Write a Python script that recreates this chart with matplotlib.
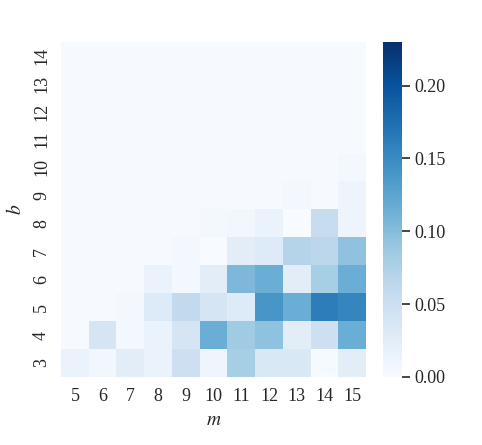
import numpy as np
import matplotlib
matplotlib.use("Agg")
import matplotlib.pyplot as plt

plt.rcParams['font.family'] = ['Liberation Serif', 'DejaVu Serif']
plt.rcParams['mathtext.fontset'] = 'stix'

# grid axes
m_values = [5, 6, 7, 8, 9, 10, 11, 12, 13, 14, 15]
b_values = [3, 4, 5, 6, 7, 8, 9, 10, 11, 12, 13, 14]

# fraction per (b, m); rows follow b_values, columns follow m_values
b3 = [0.015, 0.007, 0.025, 0.015, 0.050, 0.010, 0.080, 0.035, 0.035, 0.002, 0.025]
b4 = [0.001, 0.040, 0.005, 0.015, 0.040, 0.115, 0.085, 0.095, 0.025, 0.050, 0.115]
b5 = [0.001, 0.001, 0.005, 0.030, 0.060, 0.040, 0.030, 0.140, 0.115, 0.162, 0.155]
b6 = [0.001, 0.001, 0.001, 0.015, 0.005, 0.025, 0.105, 0.115, 0.025, 0.080, 0.115]
b7 = [0.001, 0.001, 0.001, 0.001, 0.005, 0.000, 0.025, 0.030, 0.070, 0.065, 0.095]
b8 = [0.001, 0.001, 0.001, 0.001, 0.001, 0.005, 0.007, 0.015, 0.000, 0.055, 0.012]
b9 = [0.001, 0.001, 0.001, 0.001, 0.001, 0.001, 0.001, 0.001, 0.005, 0.001, 0.012]
b10 = [0.001, 0.001, 0.001, 0.001, 0.001, 0.001, 0.001, 0.001, 0.001, 0.001, 0.005]
b11 = [0.001] * 11
b12 = [0.001] * 11
b13 = [0.001] * 11
b14 = [0.001] * 11

grid = np.array([b3, b4, b5, b6, b7, b8, b9, b10, b11, b12, b13, b14])

fig = plt.figure(figsize=(4.82, 4.45), dpi=100)
ax = fig.add_axes([0.1266, 0.153, 0.6328, 0.753])
cax = fig.add_axes([0.795, 0.153, 0.039, 0.753])

mesh = ax.pcolormesh(np.arange(len(m_values) + 1), np.arange(len(b_values) + 1),
                     grid, cmap='Blues', vmin=0, vmax=0.23)
ax.set_xlim(0, len(m_values))
ax.set_ylim(0, len(b_values))
ax.set_xticks(np.arange(len(m_values)) + 0.5)
ax.set_xticklabels(m_values)
ax.set_yticks(np.arange(len(b_values)) + 0.5)
ax.set_yticklabels(b_values, rotation=90, va='center')
ax.tick_params(length=0, labelsize=13, colors='#262626', pad=8)
for s in ax.spines.values():
    s.set_visible(False)
ax.set_xlabel('$m$', fontsize=14, color='#262626', labelpad=5)
ax.set_ylabel('$b$', fontsize=14, color='#262626', labelpad=6)

cb = fig.colorbar(mesh, cax=cax)
cb.outline.set_visible(False)
cb.set_ticks([0.0, 0.05, 0.10, 0.15, 0.20])
cb.set_ticklabels(['0.00', '0.05', '0.10', '0.15', '0.20'])
cax.tick_params(length=6, width=1.2, colors='#262626', labelsize=13, pad=3)

fig.savefig('out.png', dpi=100)
